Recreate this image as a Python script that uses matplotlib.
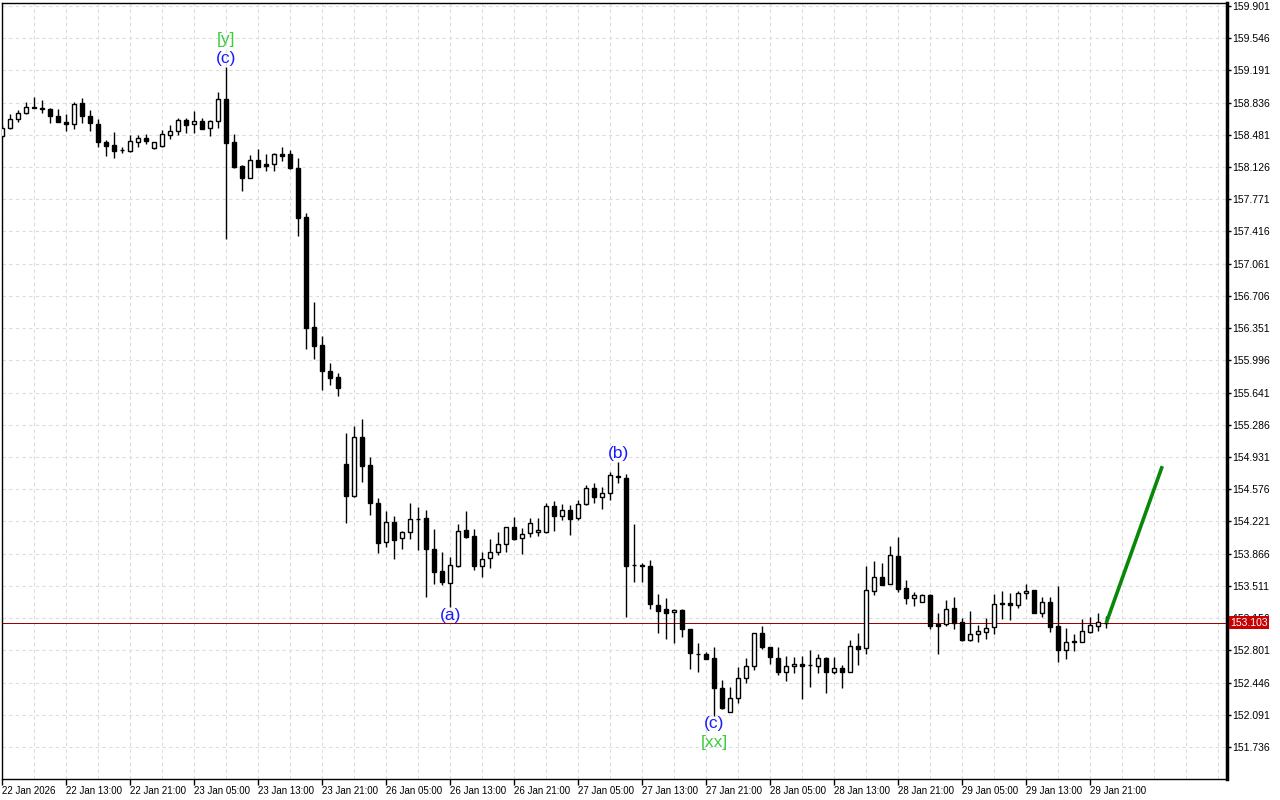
import numpy as np
import matplotlib
matplotlib.use("Agg")
import matplotlib.pyplot as plt
from matplotlib.ticker import MultipleLocator

# hourly bars
opens = [158.468, 158.560, 158.652, 158.725, 158.785, 158.782, 158.770, 158.692, 158.626, 158.597,
         158.835, 158.692, 158.600, 158.405, 158.369, 158.310, 158.306, 158.406, 158.450, 158.339,
         158.362, 158.479, 158.524, 158.645, 158.597, 158.634, 158.553, 158.634, 158.873, 158.399,
         158.138, 158.002, 158.204, 158.157, 158.157, 158.267, 158.267, 158.113, 157.573, 156.367,
         156.165, 155.882, 155.810, 154.854, 154.505, 155.148, 154.843, 154.421, 153.991, 154.212,
         154.035, 154.102, 154.248, 154.256, 153.914, 153.675, 153.546, 153.734, 154.127, 154.061,
         153.734, 153.815, 153.881, 153.969, 154.157, 154.035, 154.091, 154.102, 154.108, 154.391,
         154.285, 154.347, 154.263, 154.410, 154.586, 154.494, 154.531, 154.722, 154.697, 153.741,
         153.741, 153.730, 153.300, 153.253, 153.220, 153.245, 153.036, 152.760, 152.757, 152.713,
         152.383, 152.118, 152.272, 152.493, 152.632, 152.989, 152.834, 152.713, 152.559, 152.625,
         152.647, 152.636, 152.632, 152.720, 152.565, 152.603, 152.565, 152.849, 152.823, 153.458,
         153.606, 153.528, 153.840, 153.485, 153.374, 153.330, 153.411, 153.088, 153.088, 153.264,
         153.110, 152.915, 152.978, 153.007, 153.055, 153.326, 153.319, 153.304, 153.429, 153.466,
         153.216, 153.330, 153.069, 152.805, 152.907, 152.896, 153.007, 153.072, 153.100]
highs = [158.590, 158.708, 158.755, 158.846, 158.895, 158.865, 158.775, 158.763, 158.711, 158.846,
         158.891, 158.755, 158.656, 158.424, 158.516, 158.344, 158.479, 158.479, 158.487, 158.406,
         158.535, 158.590, 158.670, 158.663, 158.744, 158.663, 158.645, 158.950, 159.232, 158.487,
         158.149, 158.259, 158.325, 158.270, 158.278, 158.344, 158.314, 158.223, 157.617, 156.636,
         156.265, 155.964, 155.860, 155.199, 155.276, 155.350, 154.928, 154.476, 154.336, 154.281,
         154.119, 154.421, 154.384, 154.347, 154.138, 153.881, 153.826, 154.190, 154.336, 154.138,
         153.881, 154.028, 154.108, 154.163, 154.267, 154.146, 154.256, 154.256, 154.428, 154.446,
         154.410, 154.402, 154.457, 154.623, 154.641, 154.604, 154.763, 154.873, 154.741, 154.193,
         153.760, 153.796, 153.422, 153.381, 153.253, 153.253, 153.036, 152.885, 152.786, 152.834,
         152.474, 152.394, 152.621, 152.713, 152.989, 153.069, 152.834, 152.834, 152.739, 152.731,
         152.739, 152.805, 152.757, 152.731, 152.724, 152.639, 152.915, 152.989, 153.731, 153.785,
         153.767, 153.951, 154.053, 153.576, 153.447, 153.418, 153.422, 153.216, 153.356, 153.385,
         153.154, 153.234, 153.080, 153.154, 153.422, 153.455, 153.436, 153.458, 153.532, 153.466,
         153.385, 153.385, 153.513, 153.044, 152.981, 153.146, 153.165, 153.216, 153.179]
lows = [158.446, 158.542, 158.626, 158.711, 158.774, 158.725, 158.608, 158.619, 158.527, 158.542,
        158.608, 158.527, 158.350, 158.251, 158.229, 158.278, 158.295, 158.344, 158.377, 158.325,
        158.350, 158.435, 158.479, 158.505, 158.498, 158.542, 158.472, 158.553, 157.330, 158.113,
        157.866, 158.002, 158.130, 158.086, 158.086, 158.196, 158.101, 157.370, 156.121, 156.011,
        155.670, 155.725, 155.603, 154.207, 154.487, 154.659, 154.292, 153.877, 153.943, 153.807,
        153.918, 154.024, 153.907, 153.392, 153.529, 153.521, 153.282, 153.723, 154.042, 153.686,
        153.612, 153.711, 153.851, 153.881, 154.017, 153.859, 154.053, 154.061, 154.091, 154.119,
        154.237, 154.072, 154.237, 154.402, 154.428, 154.358, 154.457, 154.641, 153.171, 153.557,
        153.557, 153.253, 152.995, 152.923, 152.879, 152.945, 152.595, 152.565, 152.705, 152.081,
        152.155, 152.118, 152.224, 152.438, 152.584, 152.812, 152.647, 152.529, 152.466, 152.554,
        152.265, 152.400, 152.554, 152.334, 152.540, 152.389, 152.565, 152.639, 152.761, 153.411,
        153.521, 153.528, 153.447, 153.311, 153.293, 153.330, 153.036, 152.757, 153.072, 153.033,
        152.904, 152.904, 152.896, 152.923, 152.981, 153.146, 153.135, 153.271, 153.367, 153.216,
        153.165, 153.000, 152.676, 152.705, 152.797, 152.890, 152.989, 153.014, 153.050]
closes = [158.560, 158.652, 158.725, 158.785, 158.780, 158.769, 158.692, 158.626, 158.597, 158.821,
          158.692, 158.608, 158.399, 158.358, 158.306, 158.316, 158.413, 158.443, 158.413, 158.399,
          158.490, 158.524, 158.645, 158.590, 158.634, 158.542, 158.634, 158.873, 158.388, 158.130,
          158.002, 158.204, 158.130, 158.141, 158.267, 158.251, 158.113, 157.568, 156.356, 156.158,
          155.882, 155.805, 155.695, 154.505, 155.148, 154.835, 154.421, 153.987, 154.212, 154.017,
          154.102, 154.248, 154.245, 153.914, 153.667, 153.557, 153.741, 154.119, 154.053, 153.734,
          153.807, 153.881, 153.969, 154.157, 154.028, 154.080, 154.201, 154.127, 154.391, 154.285,
          154.347, 154.248, 154.410, 154.586, 154.494, 154.531, 154.733, 154.708, 153.734, 153.741,
          153.727, 153.308, 153.238, 153.216, 153.242, 153.033, 152.768, 152.760, 152.705, 152.383,
          152.169, 152.272, 152.493, 152.632, 152.989, 152.834, 152.724, 152.559, 152.628, 152.647,
          152.632, 152.636, 152.713, 152.565, 152.603, 152.565, 152.849, 152.816, 153.466, 153.606,
          153.521, 153.851, 153.477, 153.374, 153.407, 153.407, 153.072, 153.072, 153.253, 153.106,
          152.915, 152.978, 153.014, 153.044, 153.308, 153.308, 153.304, 153.429, 153.458, 153.216,
          153.330, 153.061, 152.805, 152.890, 152.890, 153.014, 153.080, 153.110, 153.103]

price_ticks = [159.901, 159.546, 159.191, 158.836, 158.481, 158.126, 157.771, 157.416, 157.061,
               156.706, 156.351, 155.996, 155.641, 155.286, 154.931, 154.576, 154.221, 153.866,
               153.511, 153.156, 152.801, 152.446, 152.091, 151.736]
date_labels = ["22 Jan 2026", "22 Jan 13:00", "22 Jan 21:00", "23 Jan 05:00", "23 Jan 13:00",
               "23 Jan 21:00", "26 Jan 05:00", "26 Jan 13:00", "26 Jan 21:00", "27 Jan 05:00",
               "27 Jan 13:00", "27 Jan 21:00", "28 Jan 05:00", "28 Jan 13:00", "28 Jan 21:00",
               "29 Jan 05:00", "29 Jan 13:00", "29 Jan 21:00"]
last_price = 153.103
target_bar = 145
target_price = 154.83

wave_texts = ["[y]", "(c)", "(b)", "(a)", "(c)", "[xx]"]
wave_bars = [28, 28, 77, 56, 89, 89]
wave_prices = [159.526, 159.317, 154.975, 153.190, 151.998, 151.780]
wave_colors = ["#3ccc3c", "#1a1aff", "#1a1aff", "#1a1aff", "#1a1aff", "#3ccc3c"]

fig = plt.figure(figsize=(12.8, 8), dpi=100)
ax = fig.add_axes([2 / 1280, 21 / 800, 1225 / 1280, 776.5 / 800])
ax.set_xlim(-0.0375, 153.09)
ax.set_ylim(151.383, 159.939)

# grid: vertical every 4 bars, labels every 8
ax.xaxis.set_minor_locator(MultipleLocator(4))
ax.set_xticks(range(0, 8 * len(date_labels), 8))
ax.set_xticklabels(date_labels, ha="left", fontsize=7, family="Liberation Sans")
ax.set_yticks(price_ticks)
ax.set_yticklabels([f"{p:.3f}" for p in price_ticks], fontsize=7.5, family="Liberation Sans")
ax.yaxis.tick_right()
ax.tick_params(axis="y", length=3, pad=1, width=1)
ax.tick_params(axis="x", which="major", length=4, pad=1, width=1)
ax.tick_params(axis="x", which="minor", length=0)
ax.grid(True, which="both", axis="x", color="#dcdcdc", linestyle=(0, (3, 3)), lw=0.8, zorder=0)
ax.grid(True, which="major", axis="y", color="#dcdcdc", linestyle=(0, (3, 3)), lw=0.8, zorder=0)
ax.set_axisbelow(True)
for side in ["left", "top", "bottom"]:
    ax.spines[side].set_linewidth(1)
ax.spines["right"].set_linewidth(2.5)

# candles
idx = np.arange(len(opens))
o = np.array(opens)
c = np.array(closes)
up = c > o
ax.vlines(idx, lows, highs, color="black", lw=1, zorder=2)
ax.bar(idx, np.abs(c - o), bottom=np.minimum(o, c), width=0.5,
       color=np.where(up, "white", "black"), edgecolor="black", lw=1, zorder=3)

# current price line + label
ax.axhline(last_price, color="#a00000", lw=0.72, antialiased=False, zorder=1.5)
ax.text(1.0025, last_price, f"{last_price:.3f}", transform=ax.get_yaxis_transform(),
        ha="left", va="center", color="white", fontsize=7.5, family="Liberation Sans",
        bbox=dict(boxstyle="square,pad=0.15", fc="#c80000", ec="none"), clip_on=False, zorder=10)

# projection
ax.plot([idx[-1], target_bar], [last_price, target_price], color="#088808", lw=2.6,
        solid_capstyle="butt", zorder=4)

# wave labels
for t, b, p, col in zip(wave_texts, wave_bars, wave_prices, wave_colors):
    ax.text(b, p, t, color=col, fontsize=12.5, ha="center", va="center",
            family="Liberation Sans", zorder=5)

fig.savefig("out.png", dpi=100)
